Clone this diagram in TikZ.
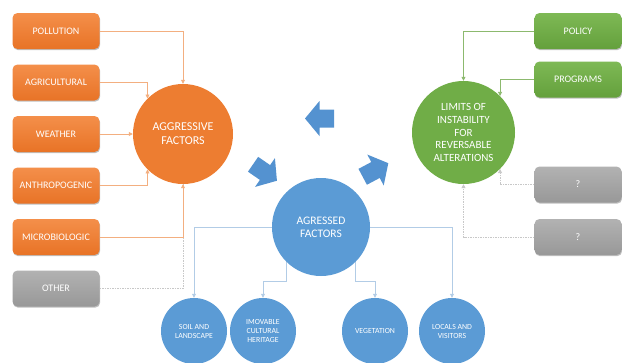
\documentclass[tikz,border=0pt]{standalone}
\usepackage{fontspec}
\setmainfont{Carlito}
\usetikzlibrary{arrows.meta,shadows}
\definecolor{orgF}{RGB}{237,125,49}
\definecolor{orgT}{RGB}{244,143,74}
\definecolor{orgB}{RGB}{232,115,38}
\definecolor{orgL}{RGB}{243,175,128}
\definecolor{grnF}{RGB}{112,173,71}
\definecolor{grnT}{RGB}{126,185,85}
\definecolor{grnB}{RGB}{100,160,60}
\definecolor{grnL}{RGB}{140,185,110}
\definecolor{bluF}{RGB}{91,155,213}
\definecolor{bluA}{RGB}{84,146,208}
\definecolor{bluL}{RGB}{178,204,230}
\definecolor{gryT}{RGB}{178,178,178}
\definecolor{gryB}{RGB}{152,152,152}
\definecolor{gryL}{RGB}{200,200,200}
\begin{document}
\begin{tikzpicture}[x=1pt,y=-1pt,
  boxbase/.style={rounded corners=5pt, minimum width=87pt, minimum height=36pt,
    text=white, font=\fontsize{10}{12}\selectfont, inner sep=1pt,
    drop shadow={shadow xshift=0.6pt, shadow yshift=-1.2pt, opacity=0.25, fill=black}},
  obox/.style={boxbase, top color=orgT, bottom color=orgB},
  gbox/.style={boxbase, top color=grnT, bottom color=grnB},
  ybox/.style={boxbase, top color=gryT, bottom color=gryB},
  bigc/.style={circle, text=white, align=center, inner sep=0pt},
  smallc/.style={circle, fill=bluF, text=white, align=center, inner sep=0pt,
    minimum size=66pt, font=\fontsize{7.8}{9}\selectfont},
  tip/.style={-{Triangle[length=4pt,width=4pt]}},
  oline/.style={tip, draw=orgL, line width=0.8pt},
  gline/.style={tip, draw=grnL, line width=0.8pt},
  bline/.style={tip, draw=bluL, line width=0.8pt},
  yline/.style={draw=gryL, line width=0.8pt, dash pattern=on 1.5pt off 1pt},
  blockarr/.style={fill=bluA}
]
\useasboundingbox (0,0) rectangle (622,362);
\clip (0,0) rectangle (622,362);

% left boxes
\node[obox] (poll)  at (56,31)    {POLLUTION};
\node[obox] (agri)  at (56,82.5)  {AGRICULTURAL};
\node[obox] (weat)  at (56,134)   {WEATHER};
\node[obox] (anth)  at (56,185.5) {ANTHROPOGENIC};
\node[obox] (micro) at (56,237)   {MICROBIOLOGIC};
\node[ybox] (other) at (56,288.5) {OTHER};

% right boxes
\node[gbox] (policy) at (578,31)    {POLICY};
\node[gbox] (prog)   at (578,79.5)  {PROGRAMS};
\node[ybox] (qa)     at (578,184.5) {?};
\node[ybox] (qb)     at (578,237)   {?};

% big circles
\node[bigc, fill=orgF, minimum size=100pt, font=\fontsize{12}{14}\selectfont] (agg) at (183,134) {AGGRESSIVE\\FACTORS};
\node[bigc, fill=grnF, minimum size=103pt, font=\fontsize{11}{12.7}\selectfont] (lim) at (463.5,132.5) {LIMITS OF\\INSTABILITY\\FOR\\REVERSABLE\\ALTERATIONS};
\node[bigc, fill=bluF, minimum size=98pt, font=\fontsize{11.5}{13}\selectfont] (agf) at (321,227) {AGRESSED\\FACTORS};

% small circles
\node[smallc] (soil) at (194,331) {SOIL AND\\LANDSCAPE};
\node[smallc] (imov) at (263,331) {IMOVABLE\\CULTURAL\\HERITAGE};
\node[smallc] (veg)  at (375,331) {VEGETATION};
\node[smallc] (loc)  at (452,331) {LOCALS AND\\VISITORS};

% left connectors
\draw[yline] (other.east) -| (agg.south);
\draw[oline] (poll.east) -| (agg.north);
\draw[oline] (agri.east) -| (agg.135);
\draw[oline] (weat.east) -- (agg.west);
\draw[oline] (anth.east) -| (agg.225);
\draw[oline] (micro.east) -| (agg.south);

% right connectors
\draw[gline] (policy.west) -| (lim.north);
\draw[gline] (prog.west) -| (lim.45);
\draw[yline, tip] (qa.west) -| (lim.-45);
\draw[yline, tip] (qb.west) -| (lim.south);

% bottom connectors
\coordinate (jl) at (agf.226 |- 0,281);
\coordinate (jr) at (agf.-46 |- 0,281);
\draw[bline] (agf.west) -| (soil.north);
\draw[bline] (agf.east) -| (loc.north);
\draw[bline] (agf.226) -- (jl) -| (imov.north);
\draw[bline] (agf.-46) -- (jr) -| (veg.north);

% block arrows
\foreach \cx/\cy/\ang in {319.5/118.5/180, 265/172.5/-34.6, 375.5/170/28}{
  \begin{scope}[shift={(\cx,\cy)}, rotate=\ang]
    \fill[blockarr] (-14.5pt,-9pt) -- (0pt,-9pt) -- (0pt,-17.5pt) -- (14.5pt,0pt)
      -- (0pt,17.5pt) -- (0pt,9pt) -- (-14.5pt,9pt) -- cycle;
  \end{scope}
}
\end{tikzpicture}
\end{document}
